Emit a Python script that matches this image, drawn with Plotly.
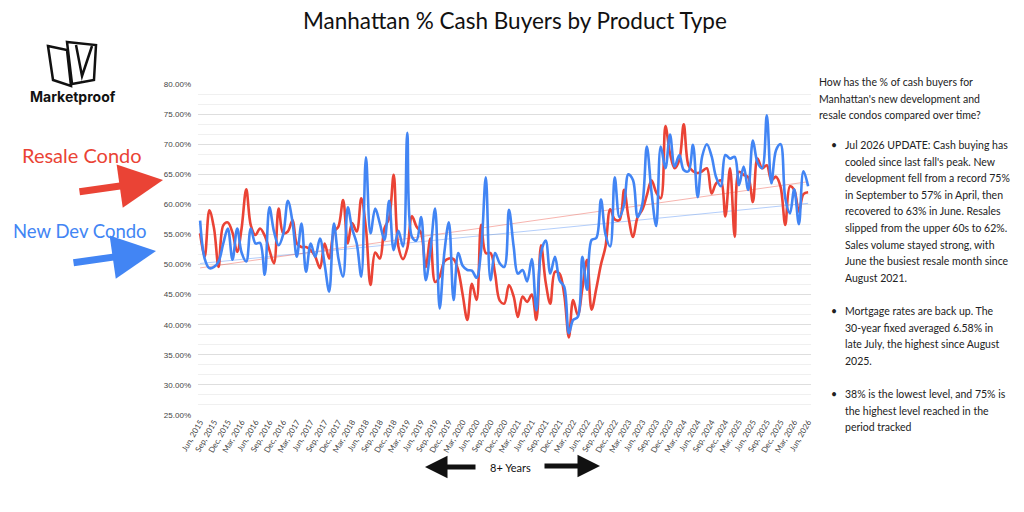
import numpy as np
import pandas as pd
import plotly.graph_objects as go

# %% dados mensais (% de compradores a vista), Jun 2015 -> Jun 2026
months = pd.date_range("2015-06-01", periods=133, freq="MS")

resale_condo = [
    55.2, 51.3, 59.0, 56.0, 49.6, 56.5, 57.0, 55.3, 52.1, 56.0, 62.5, 56.5,
    54.9, 56.0, 54.8, 52.4, 50.2, 59.3, 55.2, 55.5, 57.4, 53.5, 52.9, 52.9,
    52.4, 51.3, 49.4, 53.5, 51.0, 55.4, 56.3, 60.7, 53.5, 56.9, 55.5, 61.0,
    56.0, 46.6, 52.0, 51.0, 56.0, 57.7, 64.9, 53.0, 50.9, 52.7, 58.0, 56.3,
    55.2, 49.6, 54.3, 47.1, 48.0, 50.5, 51.0, 50.9, 49.0, 45.0, 40.8, 46.8,
    44.1, 56.6, 51.9, 51.9, 48.5, 44.0, 43.5, 46.6, 44.7, 41.3, 44.7, 43.8,
    45.0, 40.8, 53.2, 47.0, 43.5, 48.8, 48.5, 45.0, 37.9, 44.1, 41.6, 46.0,
    50.8, 42.5, 46.0, 50.0, 53.0, 59.2, 57.5, 57.4, 62.4, 58.0, 54.6, 57.9,
    59.1, 61.5, 64.0, 62.0, 61.0, 73.0, 68.5, 66.0, 67.4, 73.3, 66.5, 65.5,
    65.2, 65.5, 66.0, 61.8, 63.5, 64.0, 58.0, 66.0, 54.6, 65.4, 64.9, 64.5,
    60.4, 67.6, 66.0, 66.5, 64.0, 64.6, 62.9, 56.6, 63.0, 62.4, 58.8, 61.7,
    62.0,
]

new_dev_condo = [
    57.3, 51.0, 49.4, 49.6, 50.5, 53.5, 56.0, 50.8, 56.0, 52.0, 50.5, 56.0,
    53.5, 53.6, 48.3, 59.5, 55.5, 53.2, 55.0, 60.6, 57.0, 51.3, 56.8, 48.8,
    53.5, 51.3, 54.3, 50.0, 45.5, 56.8, 51.0, 48.0, 59.5, 56.0, 53.5, 48.0,
    67.8, 55.2, 59.3, 56.8, 54.1, 60.6, 52.4, 55.6, 53.0, 71.9, 54.6, 54.0,
    57.9, 47.4, 52.4, 59.3, 42.7, 52.0, 57.0, 44.1, 51.9, 49.8, 49.1, 49.0,
    47.8, 52.4, 64.5, 47.4, 51.9, 50.2, 49.6, 59.1, 53.0, 48.5, 49.1, 47.2,
    50.9, 42.4, 52.0, 54.0, 48.5, 51.3, 47.4, 46.3, 38.6, 40.8, 41.3, 51.3,
    45.8, 54.1, 54.4, 60.8, 55.0, 53.0, 64.5, 57.9, 60.0, 65.0, 64.0, 57.9,
    60.0, 69.6, 62.0, 56.4, 69.6, 66.0, 71.6, 66.3, 68.2, 65.7, 65.5, 69.9,
    61.2, 68.0, 70.0, 68.0, 64.5, 63.0, 68.2, 67.6, 67.9, 63.2, 66.3, 62.4,
    70.6, 67.0, 66.0, 74.8, 63.5, 69.0, 70.0, 61.0, 58.5, 62.5, 56.7, 65.5,
    63.0,
]

RED = "#ea4335"
BLUE = "#4285f4"

# linhas de tendencia (regressao linear). No grafico original as cores
# das tendencias aparecem trocadas em relacao as series -> mantido assim.
idx = np.arange(len(months))
trend_resale = np.polyval(np.polyfit(idx, resale_condo, 1), idx)
trend_new_dev = np.polyval(np.polyfit(idx, new_dev_condo, 1), idx)

fig = go.Figure()
fig.add_trace(go.Scatter(x=months, y=trend_resale, mode="lines", hoverinfo="skip",
                         line=dict(color="rgba(66,133,244,0.40)", width=1)))
fig.add_trace(go.Scatter(x=months, y=trend_new_dev, mode="lines", hoverinfo="skip",
                         line=dict(color="rgba(234,67,53,0.40)", width=1)))
fig.add_trace(go.Scatter(x=months, y=resale_condo, mode="lines", name="Resale Condo",
                         line=dict(color=RED, width=2.6, shape="spline", smoothing=1)))
fig.add_trace(go.Scatter(x=months, y=new_dev_condo, mode="lines", name="New Dev Condo",
                         line=dict(color=BLUE, width=2.6, shape="spline", smoothing=1)))

# a pagina tem 8px de margem no body; posicoes abaixo sao da imagem final
OFF = 8
L, T = 198 - OFF, 84 - OFF
R, B = 1024 - (811 - OFF), 512 - (415 - OFF)
W, H = 1024 - L - R, 512 - T - B


def px(x):
    return (x - OFF - L) / W


def py(y):
    return (512 - B - (y - OFF)) / H


HAND = "Lato, Noto Sans, sans-serif"


def label(text, x, y, size, color, family=HAND, xanchor="center"):
    return dict(text=text, x=px(x), y=py(y), xref="paper", yref="paper",
                xanchor=xanchor, yanchor="middle", showarrow=False,
                font=dict(size=size, color=color, family=family))


annotations = [
    label("Manhattan % Cash Buyers by Product Type", 515, 21, 22.5, "#111"),
    label("<b>Marketproof</b>", 73, 96, 14, "#111", family="Inter, sans-serif"),
    label("Resale Condo", 82, 155, 20, RED),
    label("New Dev Condo", 80, 231, 18.5, BLUE),
    label("8+ Years", 510, 467, 11, "#111"),
]

# setas desenhadas a mao: (ponta x, ponta y, dx cauda, dy cauda, cor, largura, cabeca)
arrows = [
    (163, 180, -85, 12, RED, 7, 1.25),
    (156, 251, -84, 12, BLUE, 7, 1.25),
    (425, 467, 52, 0, "#111", 5, 0.9),
    (600, 466, -57, 0, "#111", 5, 0.9),
]
for tx, ty, ax, ay, col, w, head in arrows:
    annotations.append(dict(x=px(tx), y=py(ty), xref="paper", yref="paper", text="",
                            showarrow=True, ax=ax, ay=ay, arrowcolor=col,
                            arrowwidth=w, arrowhead=2, arrowsize=head))

# texto explicativo da direita
intro = ["How has the % of cash buyers for",
         "Manhattan's new development and",
         "resale condos compared over time?"]
bullets = [
    ["Jul 2026 UPDATE: Cash buying has",
     "cooled since last fall's peak. New",
     "development fell from a record 75%",
     "in September to 57% in April, then",
     "recovered to 63% in June. Resales",
     "slipped from the upper 60s to 62%.",
     "Sales volume stayed strong, with",
     "June the busiest resale month since",
     "August 2021."],
    ["Mortgage rates are back up. The",
     "30-year fixed averaged 6.58% in",
     "late July, the highest since August",
     "2025."],
    ["38% is the lowest level, and 75% is",
     "the highest level reached in the",
     "period tracked"],
]
LINE = 16.6
for k, line in enumerate(intro):
    annotations.append(label(line, 817, 82 + k * LINE, 10.5, "#222", xanchor="left"))
starts = [145, 311, 394]
for start, para in zip(starts, bullets):
    annotations.append(label("\u2022", 829, start, 10.5, "#222", xanchor="left"))
    for k, line in enumerate(para):
        annotations.append(label(line, 843, start + k * LINE, 10.5, "#222",
                                 xanchor="left"))

# logo (icone)
logo_paths = [
    [(48, 46), (67, 50), (71, 86), (53, 80)],
    [(67, 42), (96, 45), (94, 80), (72, 84)],
]
shapes = []
for pts in logo_paths:
    path = "M " + " L ".join(f"{px(x):.4f},{py(y):.4f}" for x, y in pts) + " Z"
    shapes.append(dict(type="path", path=path, xref="paper", yref="paper",
                       line=dict(color="#111", width=2.5), fillcolor="rgba(0,0,0,0)"))
v = [(76, 45), (82, 76), (92, 46)]
shapes.append(dict(type="path", xref="paper", yref="paper",
                   path="M " + " L ".join(f"{px(x):.4f},{py(y):.4f}" for x, y in v),
                   line=dict(color="#111", width=2.5)))

fig.update_layout(
    width=1024, height=512,
    margin=dict(l=L, r=R, t=T, b=B),
    paper_bgcolor="white", plot_bgcolor="white",
    showlegend=False,
    annotations=annotations,
    shapes=shapes,
    xaxis=dict(
        type="date", range=["2015-05-18", "2026-06-20"],
        tick0="2015-06-01", dtick="M3", tickformat="%b, %Y",
        tickangle=-60, tickfont=dict(size=8, color="#444", family=HAND),
        showgrid=False, zeroline=False, showline=False, ticks="",
    ),
    yaxis=dict(
        range=[25, 80], dtick=5, tick0=25, ticksuffix="%", tickformat=".2f",
        tickfont=dict(size=8, color="#444", family="Liberation Sans, Arial"),
        gridcolor="#dedede", gridwidth=1, zeroline=False, showline=False,
        ticklabelstandoff=6,
        minor=dict(dtick=5 / 3, tick0=25, showgrid=True, gridcolor="#f0f0f0"),
    ),
)

fig.write_html("out.html")
